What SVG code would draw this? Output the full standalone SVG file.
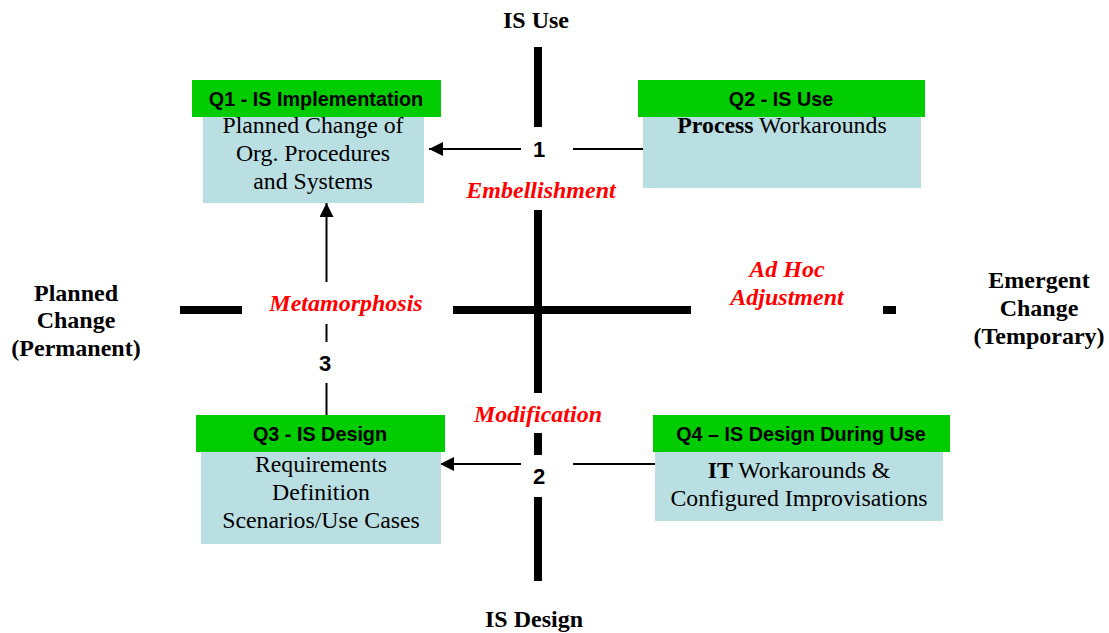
<svg xmlns="http://www.w3.org/2000/svg" width="1109" height="633" viewBox="0 0 1109 633">
  <style>
    .hdr { fill: #00CC00; }
    .body { fill: #BADFE3; }
    .hdrtxt { font-family: "Liberation Sans", Arial, sans-serif; font-weight: bold; font-size: 19.8px; fill: #000; text-anchor: middle; }
    .bodytxt { font-family: "Liberation Serif", "Times New Roman", serif; font-size: 23.8px; fill: #000; text-anchor: middle; }
    .axislbl { font-family: "Liberation Serif", "Times New Roman", serif; font-weight: bold; font-size: 24px; fill: #000; text-anchor: middle; }
    .red { font-family: "Liberation Serif", "Times New Roman", serif; font-weight: bold; font-style: italic; font-size: 24px; fill: #FF0000; text-anchor: middle; }
    .num { font-family: "Liberation Sans", Arial, sans-serif; font-weight: bold; font-size: 22px; fill: #000; text-anchor: middle; }
    .axis { stroke: #000; stroke-width: 8; fill: none; }
    .thin { stroke: #000; stroke-width: 2; fill: none; }
  </style>
  <defs>
    <marker id="arrow" viewBox="0 0 10 10" refX="10" refY="5" markerWidth="16" markerHeight="14" markerUnits="userSpaceOnUse" orient="auto">
      <path d="M0,0 L10,5 L0,10 Z" fill="#000"/>
    </marker>
  </defs>
  <rect width="1109" height="633" fill="#fff"/>

  <!-- Axes -->
  <g id="axes">
    <line class="axis" x1="538" y1="47" x2="538" y2="127"/>
    <line class="axis" x1="538" y1="210" x2="538" y2="393"/>
    <line class="axis" x1="538" y1="433" x2="538" y2="455"/>
    <line class="axis" x1="538" y1="497" x2="538" y2="581"/>
    <line class="axis" x1="180" y1="310" x2="242" y2="310"/>
    <line class="axis" x1="453" y1="310" x2="691" y2="310"/>
    <line class="axis" x1="883" y1="310" x2="896" y2="310"/>
    <text class="axislbl" x="536" y="28">IS Use</text>
    <text class="axislbl" x="534" y="627">IS Design</text>
    <text class="axislbl" x="76" y="301">Planned</text>
    <text class="axislbl" x="76" y="328">Change</text>
    <text class="axislbl" x="76" y="356">(Permanent)</text>
    <text class="axislbl" x="1039" y="288">Emergent</text>
    <text class="axislbl" x="1039" y="316">Change</text>
    <text class="axislbl" x="1039" y="344">(Temporary)</text>
  </g>

  <!-- Connectors -->
  <g id="connectors">
    <line class="thin" x1="643" y1="149" x2="573" y2="149"/>
    <line class="thin" x1="521" y1="149" x2="429" y2="149" marker-end="url(#arrow)"/>
    <text class="num" x="539" y="157">1</text>
    <line class="thin" x1="655" y1="464" x2="573" y2="464"/>
    <line class="thin" x1="521" y1="464" x2="440" y2="464" marker-end="url(#arrow)"/>
    <text class="num" x="539" y="484">2</text>
    <line class="thin" x1="326.5" y1="416" x2="326.5" y2="383"/>
    <line class="thin" x1="326.5" y1="342" x2="326.5" y2="324"/>
    <line class="thin" x1="326.5" y1="282" x2="326.5" y2="203" marker-end="url(#arrow)"/>
    <text class="num" x="325" y="371">3</text>
  </g>

  <!-- Transition labels -->
  <g id="labels">
    <text class="red" x="541" y="198">Embellishment</text>
    <text class="red" x="346" y="311">Metamorphosis</text>
    <text class="red" x="787" y="277">Ad Hoc</text>
    <text class="red" x="787" y="305">Adjustment</text>
    <text class="red" x="538" y="422">Modification</text>
  </g>

  <!-- Q1 -->
  <g id="q1">
    <rect class="body" x="203" y="117" width="221" height="86"/>
    <rect class="hdr" x="192" y="80" width="249" height="37"/>
    <text class="hdrtxt" x="316" y="106">Q1 - IS Implementation</text>
    <text class="bodytxt" x="313" y="133">Planned Change of</text>
    <text class="bodytxt" x="313" y="161">Org. Procedures</text>
    <text class="bodytxt" x="313" y="189">and Systems</text>
  </g>

  <!-- Q2 -->
  <g id="q2">
    <rect class="body" x="643" y="117" width="278" height="71"/>
    <rect class="hdr" x="638" y="80" width="287" height="37"/>
    <text class="hdrtxt" x="781" y="106">Q2 - IS Use</text>
    <text class="bodytxt" x="782" y="133"><tspan font-weight="bold">Process</tspan> Workarounds</text>
  </g>

  <!-- Q3 -->
  <g id="q3">
    <rect class="body" x="201" y="452" width="240" height="92"/>
    <rect class="hdr" x="196" y="415" width="249" height="37"/>
    <text class="hdrtxt" x="320" y="441">Q3 - IS Design</text>
    <text class="bodytxt" x="321" y="472">Requirements</text>
    <text class="bodytxt" x="321" y="500">Definition</text>
    <text class="bodytxt" x="321" y="528">Scenarios/Use Cases</text>
  </g>

  <!-- Q4 -->
  <g id="q4">
    <rect class="body" x="655" y="452" width="288" height="69"/>
    <rect class="hdr" x="653" y="415" width="297" height="37"/>
    <text class="hdrtxt" x="801" y="441">Q4 – IS Design During Use</text>
    <text class="bodytxt" x="799" y="478"><tspan font-weight="bold">IT</tspan> Workarounds &amp;</text>
    <text class="bodytxt" x="799" y="506">Configured Improvisations</text>
  </g>
</svg>
